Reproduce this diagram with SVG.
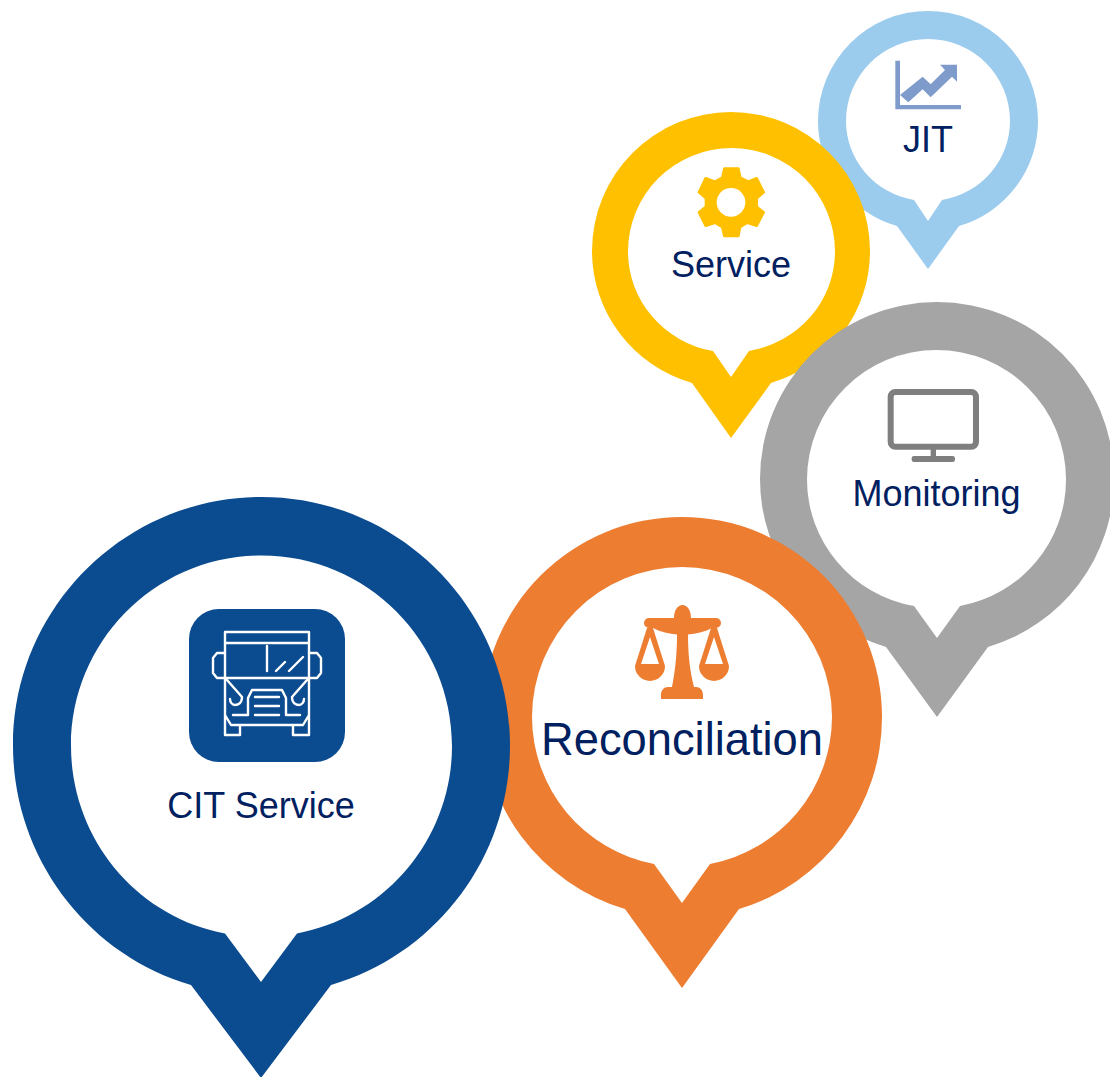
<svg xmlns="http://www.w3.org/2000/svg" width="1110" height="1077" viewBox="0 0 1110 1077">
<style>
.pin{fill-rule:evenodd}
.lbl{font-family:"Liberation Sans",Arial,sans-serif;fill:#002060;text-anchor:middle}
.bus{fill:none;stroke:#fff;stroke-width:2.400;stroke-linejoin:round;stroke-linecap:round}
</style>
<rect width="1110" height="1077" fill="#fff"/>
<g id="node-jit">
<path class="pin" fill="#9BCBED" d="M818 121A110 110 0 0 1 1038 121A110 109.400 0 0 1 959 226L928 269L897 226A110 109.400 0 0 1 818 121ZM846 121A82 82 0 0 1 1010 121A82 80.200 0 0 1 942 200L928 221L914 200A82 80.200 0 0 1 846 121Z"/>
<g transform="translate(880 50) scale(.3333)" fill="#7F9BCB">
<path d="M46 32H60V165H243V178H46Z"/>
<path d="M60 135L128 80L152 103L195 60L180 44H231V95L216 80L152 142L128 118L85 157Z"/>
</g>
<text class="lbl" x="928" y="152" font-size="36">JIT</text>
</g>
<g id="node-service">
<path class="pin" fill="#FFC000" d="M592 251A139 139 0 0 1 870 251A139 137.500 0 0 1 771 383L731 438L692 383A139 137.500 0 0 1 592 251ZM628 251.500A103.500 103.500 0 0 1 835 251.500A103.500 101 0 0 1 749 351L731 377L713 351A103.500 101 0 0 1 628 251.500Z"/>
<g transform="translate(685 155) scale(.3333)">
<path fill="#FFC000" stroke="#FFC000" stroke-width="8" stroke-linejoin="round" d="M118 41H160L166 68L190 80L215 70L236 112L215 130V155L236 172L215 212L187 203L165 216L160 243H118L112 216L90 203L62 212L42 172L63 155V130L42 112L62 70L90 80L112 68Z"/>
<circle cx="138" cy="142" r="43" fill="#fff"/>
</g>
<text class="lbl" x="731" y="277" font-size="36">Service</text>
</g>
<g id="node-monitoring">
<path class="pin" fill="#A5A5A5" d="M760 479A177 177 0 0 1 1114 479A177 175.400 0 0 1 988 647L937 717L886 647A177 175.400 0 0 1 760 479ZM807 479.500A129.500 129.500 0 0 1 1066 479.500A129.500 128.500 0 0 1 960 606L937 638L914 606A129.500 128.500 0 0 1 807 479.500Z"/>
<g transform="translate(875 380) scale(.3333)" fill="#7F7F7F">
<rect x="47" y="36" width="256" height="164" rx="14" fill="none" stroke="#7F7F7F" stroke-width="18"/>
<rect x="167" y="205" width="16" height="28"/>
<rect x="110" y="228" width="130" height="18" rx="7"/>
</g>
<text class="lbl" x="936.500" y="506" font-size="36">Monitoring</text>
</g>
<g id="node-reconciliation">
<path class="pin" fill="#ED7D31" d="M482 717A200 200 0 0 1 882 717A200 200 0 0 1 739 909L682 988L625 909A200 200 0 0 1 482 717ZM532 717A150 150 0 0 1 832 717A150 150 0 0 1 710 864L682 903L654 864A150 150 0 0 1 532 717Z"/>
<g fill="#ED7D31">
<path d="M674 618C674 610 678 605 682.500 605C687 605 691 610 691 618H716A5 5 0 0 1 716 628H712C704 632 696 634 688 634.500C688 655 690 672 694 687H696C700 687 703 690 703 695V699H661V695C661 690 664 687 668 687H672C675 672 677 655 677 634.500C669 634 661 632 653 628H649A5 5 0 0 1 649 618Z"/>
<path fill-rule="evenodd" d="M647 628H653L665 666A15 15 0 0 1 635 666ZM650 637L641 664H659Z"/>
<path fill-rule="evenodd" d="M711 628H717L729 666A15 15 0 0 1 699 666ZM714 637L705 664H723Z"/>
</g>
<text class="lbl" x="682" y="755" font-size="45.300">Reconciliation</text>
</g>
<g id="node-cit-service">
<path class="pin" fill="#0B4B8F" d="M13 745.500C13 608.300 124.300 497 261.500 497C398.700 497 510 608.300 510 745.500C510 856 437.100 954.100 331 985L261 1078L191 985C85.900 954.100 13 856 13 745.500ZM71 746C71 640.800 156.300 555.500 261.500 555.500C366.700 555.500 452 640.800 452 746C452 837.400 386.800 916.500 297 933.500L261 982L225 933.500C135.200 916.500 71 837.400 71 746Z"/>
<rect x="189" y="609" width="156" height="153" rx="30" fill="#0B4B8F"/>
<g class="bus">
<path d="M225 678V632H309V678M225 643H309M225 678H309M267 646V671M276 671L285 662M289 671L303 657"/>
<path d="M225 653H217L213 658V673L217 678H225M309 653H317L321 658V673L317 678H309"/>
<path d="M225 678V735H240V725H293V735H309V678M225 715L231 725H240M309 715L303 725H293"/>
<path d="M227 680L242 697C242 703 238 705 235 705C232 705 230 702 230 699M307 680L292 697C292 703 296 705 299 705C302 705 304 702 304 699"/>
<path d="M233 715H248V698L252 690H282L286 698V715H300M255 697H279M255 706H279M255 715H279"/>
</g>
<text class="lbl" x="261" y="818" font-size="36">CIT Service</text>
</g>
<g id="connectors"/>
</svg>
